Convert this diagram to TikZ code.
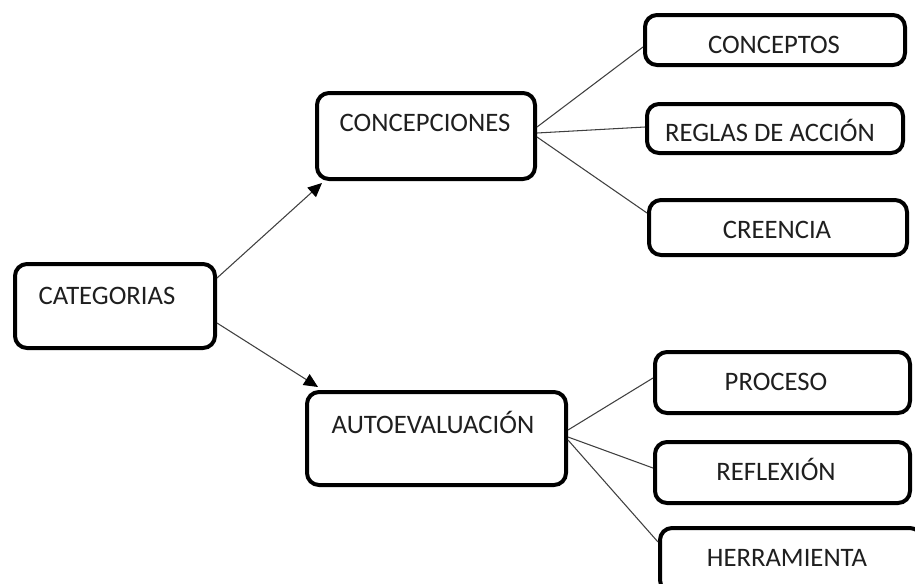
\documentclass[tikz,border=0pt]{standalone}
\usepackage{fontspec}
\setmainfont{Carlito}
\usetikzlibrary{arrows.meta,calc}
\begin{document}
\begin{tikzpicture}[x=0.75pt,y=-0.75pt,
  box/.style={draw=black,line width=3pt,rounded corners=9pt,fill=white,inner sep=0pt},
  lbl/.style={anchor=base,inner sep=0pt,font=\fontsize{20pt}{22pt}\selectfont,text=black!88},
  conn/.style={draw=black!75,line width=0.8pt},
  arr/.style={conn,-{Triangle[length=10.5pt,width=9.5pt,color=black]}}]
\useasboundingbox (0,0) rectangle (915,583);
\clip (0,0) rectangle (915,583);
% boxes
\node[box,minimum width=150pt,minimum height=63pt] (cat) at (115,306) {};
\node[box,minimum width=163.5pt,minimum height=64.5pt] (concep) at (426,136) {};
\node[box,minimum width=194.25pt,minimum height=69.75pt] (auto) at (436.5,438.5) {};
\node[box,minimum width=195pt,minimum height=37.5pt] (conceptos) at (775,40) {};
\node[box,minimum width=192pt,minimum height=36.75pt] (reglas) at (775,128.5) {};
\node[box,minimum width=193.5pt,minimum height=41.25pt] (creencia) at (778,227.5) {};
\node[box,minimum width=191.25pt,minimum height=45.75pt] (proceso) at (782.5,382.5) {};
\node[box,minimum width=191.25pt,minimum height=45.75pt] (reflexion) at (782.5,472.5) {};
\node[box,minimum width=196.5pt,minimum height=48pt] (herramienta) at (791,560) {};
% labels
\node[lbl] (tcat) at (107,304) {CATEGORIAS};
\node[lbl] (tconcep) at (425,131) {CONCEPCIONES};
\node[lbl] (tauto) at (433,433) {AUTOEVALUACIÓN};
\node[lbl] (tconceptos) at (774,53) {CONCEPTOS};
\node[lbl] (treglas) at (770,141) {REGLAS DE ACCIÓN};
\node[lbl] (tcreencia) at (777,238) {CREENCIA};
\node[lbl] (tproceso) at (776,390) {PROCESO};
\node[lbl] (treflexion) at (776,480) {REFLEXIÓN};
\node[lbl] (therramienta) at (787,566) {HERRAMIENTA};
% connectors
\draw[arr] ($(cat.east)+(0,-28)$) -- ($(concep.south west)+(7,2)$);
\draw[arr] ($(cat.east)+(0,17)$) -- ($(auto.north west)+(13,-3)$);
\draw[conn] ($(concep.east)+(0,-9)$) -- ($(conceptos.west)+(0,7)$);
\draw[conn] ($(concep.east)+(0,-3)$) -- ($(reglas.west)+(0,-1.5)$);
\draw[conn] ($(concep.east)+(0,1)$) -- ($(creencia.west)+(0,-14.5)$);
\draw[conn] ($(auto.east)+(0,-8.5)$) -- ($(proceso.west)+(0,-4.5)$);
\draw[conn] ($(auto.east)+(0,-1.5)$) -- ($(reflexion.west)+(0,-4.5)$);
\draw[conn] ($(auto.east)+(0,1.5)$) -- ($(herramienta.west)+(0,-18)$);
\end{tikzpicture}
\end{document}
